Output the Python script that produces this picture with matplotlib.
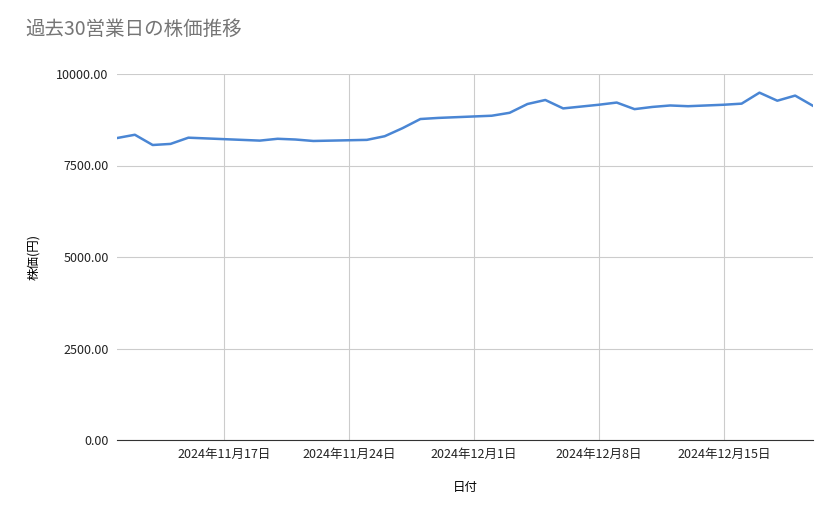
import matplotlib
matplotlib.use("Agg")
import matplotlib.pyplot as plt
import matplotlib.dates as mdates
import pandas as pd

plt.rcParams['font.family'] = ['Noto Sans CJK JP', 'DejaVu Sans']

dates = pd.date_range("2024-11-11", "2024-12-20", freq="D")
prices = [8250, 8340, 8060, 8090, 8260, 8240, 8220, 8200, 8180, 8230,
          8210, 8170, 8180, 8190, 8200, 8300, 8520, 8770, 8800, 8820,
          8840, 8860, 8940, 9180, 9290, 9060, 9110, 9160, 9220, 9040,
          9100, 9140, 9120, 9140, 9160, 9190, 9490, 9270, 9410, 9130]
yticks = [0, 2500, 5000, 7500, 10000]
xticks = pd.to_datetime(["2024-11-17", "2024-11-24", "2024-12-01", "2024-12-08", "2024-12-15"])

W, H = 839, 519
fig = plt.figure(figsize=(W/100, H/100), dpi=100)
ax = fig.add_axes([117/W, 1-440/H, (813-117)/W, (440-74)/H])
ax.plot(dates, prices, color='#4a86d4', lw=1.8)
ax.set_xlim(dates[0], dates[-1])
ax.set_ylim(0, 10000)
ax.set_yticks(yticks)
ax.set_yticklabels([f"{v:.2f}" for v in yticks])
ax.set_xticks(xticks)
ax.set_xticklabels([f"{d.year}年{d.month}月{d.day}日" for d in xticks])
ax.grid(True, color='#cccccc', lw=0.8)
ax.set_axisbelow(True)
for s in ['top', 'right', 'left']:
    ax.spines[s].set_visible(False)
ax.spines['bottom'].set_color('#333333')
ax.tick_params(length=0, labelsize=9, colors='#222222', pad=6)
ax.set_xlabel("日付", fontsize=9, labelpad=14)
ax.set_ylabel("株価(円)", fontsize=9, labelpad=12)
fig.text(25/W, 1-40/H, "過去30営業日の株価推移", fontsize=14, color='#757575', va='bottom')
fig.savefig("out.png", dpi=100)
